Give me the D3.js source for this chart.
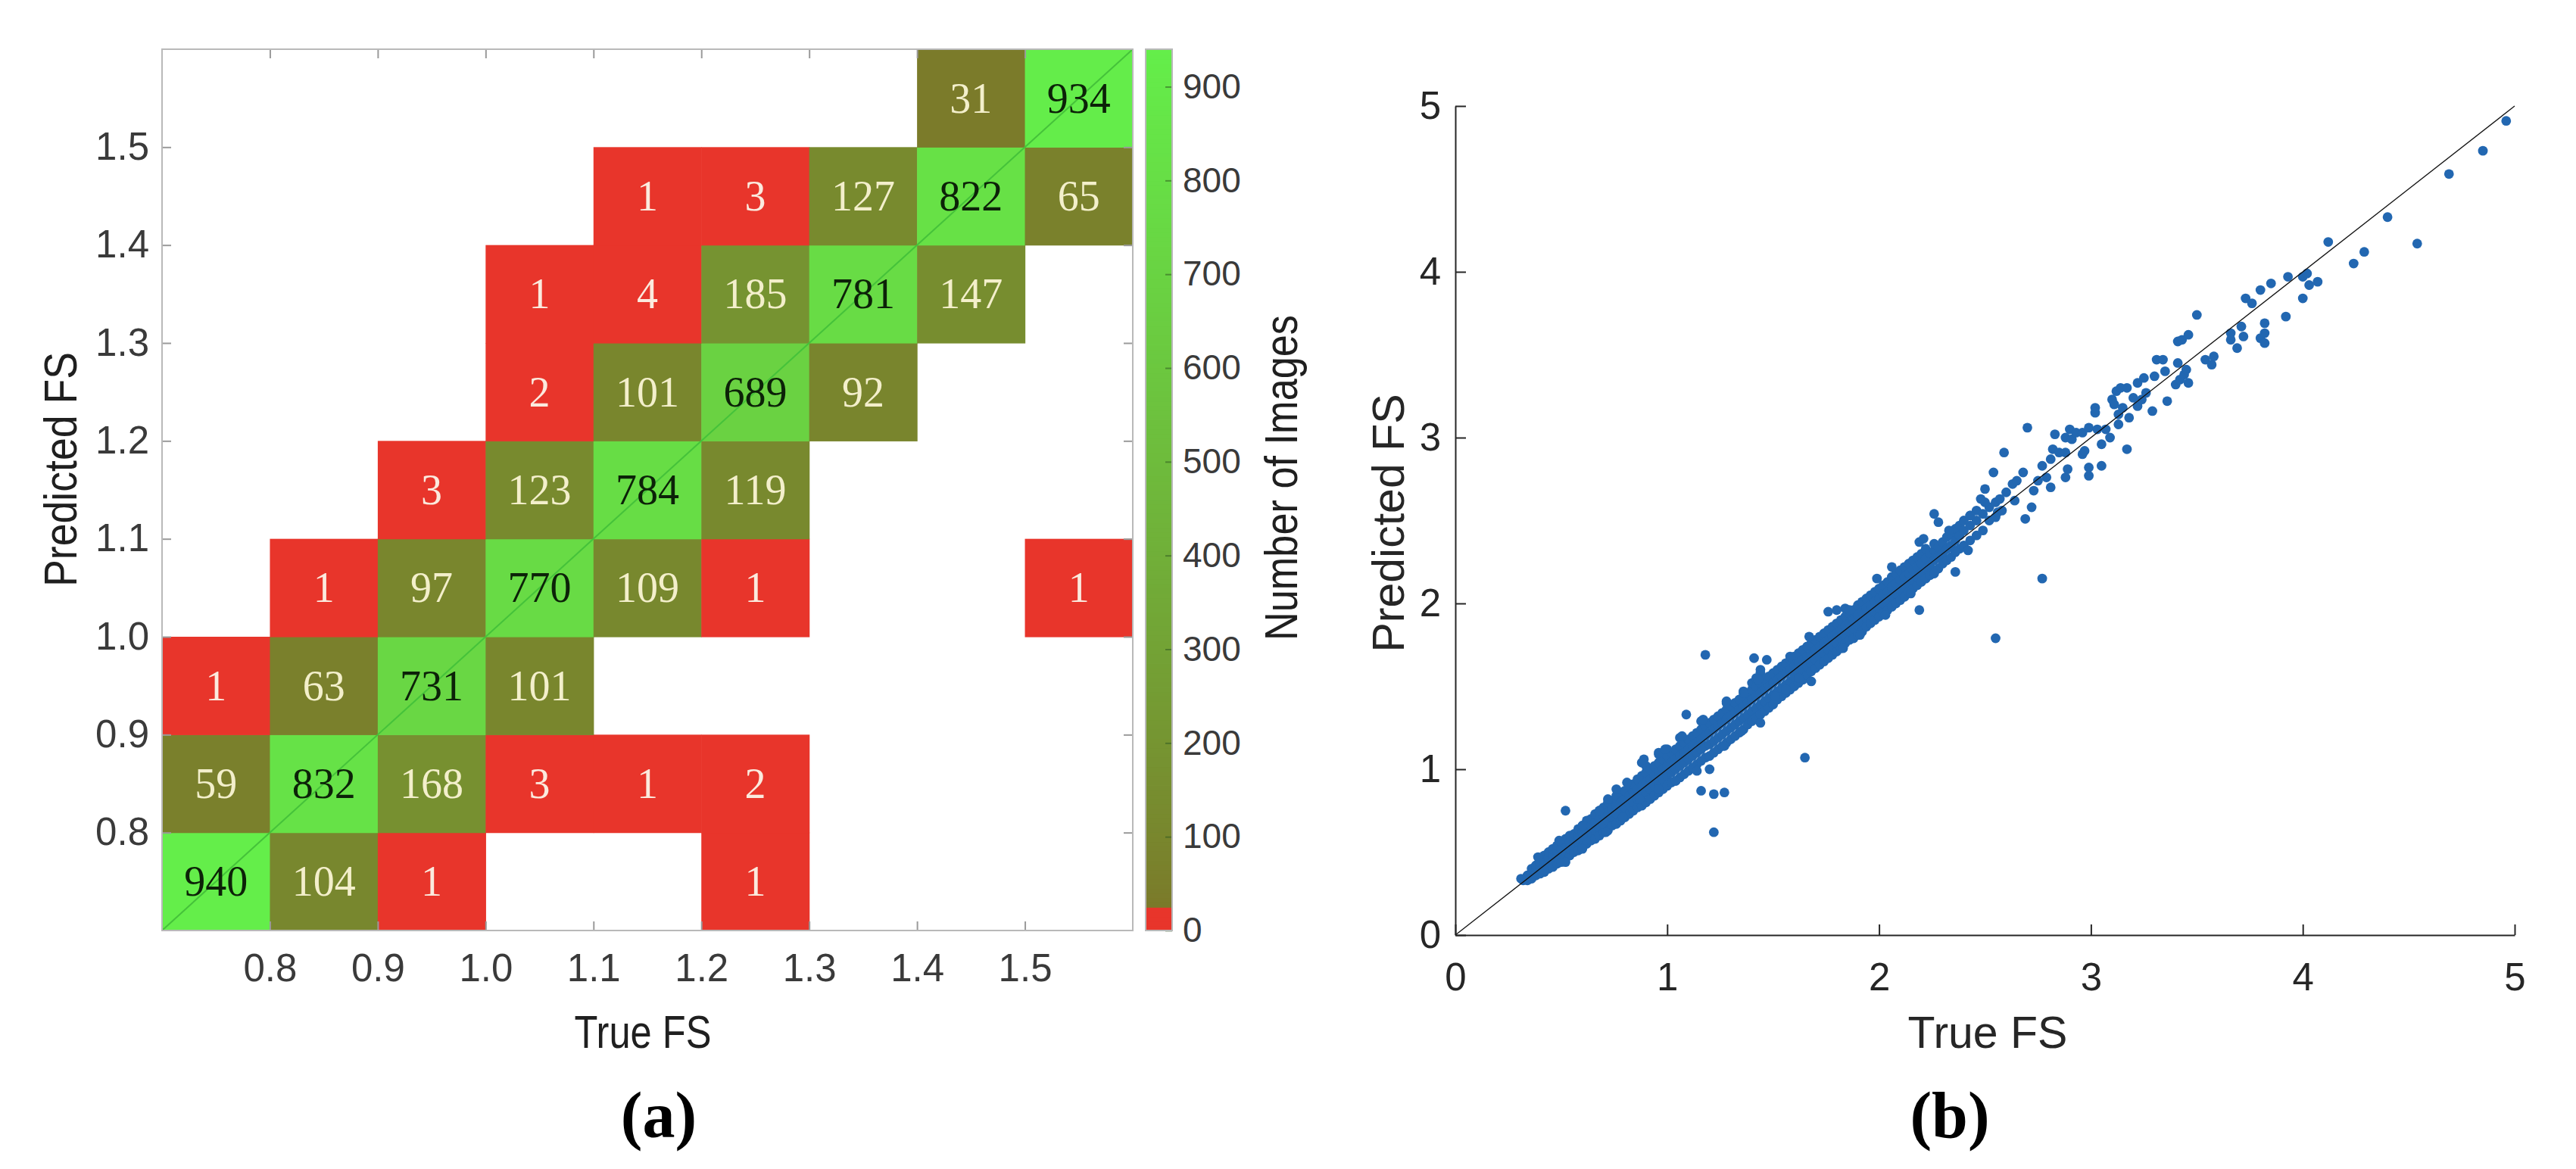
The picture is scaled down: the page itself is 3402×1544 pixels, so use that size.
<!DOCTYPE html>
<html>
<head>
<meta charset="utf-8">
<script src="https://cdn.jsdelivr.net/npm/d3@7"></script>
<style>
  html, body { margin: 0; padding: 0; background: #ffffff; }
  svg { display: block; }
</style>
</head>
<body>
<svg id="chart" width="3402" height="1544"></svg>
<script>
// ===================== DATA =====================
// (a) heat map: bins of True FS (columns) and Predicted FS (rows)
const binEdges = [0.7, 0.8, 0.9, 1.0, 1.1, 1.2, 1.3, 1.4, 1.5, 1.6];
const heatTickValues = [0.8, 0.9, 1.0, 1.1, 1.2, 1.3, 1.4, 1.5];
const heatTickLabels = ["0.8", "0.9", "1.0", "1.1", "1.2", "1.3", "1.4", "1.5"];
// counts[row][col]; row = predicted bin (0.7-0.8 first), col = true bin
const counts = [
  [940, 104, 1, null, null, 1, null, null, null],
  [59, 832, 168, 3, 1, 2, null, null, null],
  [1, 63, 731, 101, null, null, null, null, null],
  [null, 1, 97, 770, 109, 1, null, null, 1],
  [null, null, 3, 123, 784, 119, null, null, null],
  [null, null, null, 2, 101, 689, 92, null, null],
  [null, null, null, 1, 4, 185, 781, 147, null],
  [null, null, null, null, 1, 3, 127, 822, 65],
  [null, null, null, null, null, null, null, 31, 934]
];
const colorbarTicks = [0, 100, 200, 300, 400, 500, 600, 700, 800, 900];
const colorbarMax = 940;
const redLimit = 27;

// (b) scatter: dense band columns [x, y1, y2, ...]
const denseColumns = [
  [0.32, 0.33], [0.34, 0.33, 0.36], [0.36, 0.34, 0.37, 0.40],
  [0.38, 0.36, 0.39, 0.42], [0.40, 0.37, 0.41, 0.44], [0.42, 0.38, 0.42, 0.45, 0.48],
  [0.44, 0.40, 0.43, 0.47, 0.50], [0.46, 0.41, 0.45, 0.49, 0.52], [0.48, 0.43, 0.47, 0.51, 0.54],
  [0.50, 0.44, 0.49, 0.52, 0.56], [0.52, 0.46, 0.50, 0.55, 0.58], [0.54, 0.48, 0.52, 0.56, 0.60],
  [0.56, 0.50, 0.54, 0.58, 0.61], [0.58, 0.51, 0.56, 0.60, 0.64], [0.60, 0.53, 0.58, 0.62, 0.66],
  [0.62, 0.55, 0.60, 0.64, 0.69], [0.64, 0.57, 0.62, 0.66, 0.70], [0.66, 0.58, 0.63, 0.68, 0.73],
  [0.68, 0.60, 0.65, 0.70, 0.75], [0.70, 0.62, 0.67, 0.72, 0.77], [0.72, 0.63, 0.69, 0.74, 0.80],
  [0.74, 0.66, 0.71, 0.76, 0.81], [0.76, 0.67, 0.73, 0.78, 0.84], [0.78, 0.69, 0.75, 0.80, 0.86],
  [0.80, 0.71, 0.77, 0.82, 0.87], [0.82, 0.73, 0.79, 0.84, 0.90], [0.84, 0.75, 0.80, 0.86, 0.91],
  [0.86, 0.77, 0.82, 0.88, 0.94], [0.88, 0.78, 0.84, 0.90, 0.96, 1.04], [0.90, 0.80, 0.86, 0.92, 0.98, 1.02],
  [0.92, 0.82, 0.88, 0.94, 1.00], [0.94, 0.84, 0.90, 0.96, 1.02], [0.96, 0.86, 0.92, 0.98, 1.04, 1.09],
  [0.98, 0.88, 0.94, 1.00, 1.06], [1.00, 0.90, 0.96, 1.02, 1.08, 1.12], [1.02, 0.92, 0.98, 1.04, 1.10],
  [1.04, 0.93, 1.00, 1.06, 1.12], [1.06, 0.95, 1.02, 1.08, 1.14, 1.19], [1.08, 0.97, 1.04, 1.10, 1.16],
  [1.10, 0.99, 1.06, 1.12, 1.18], [1.12, 1.01, 1.08, 1.14, 1.20], [1.14, 1.03, 1.10, 1.16, 1.22],
  [1.16, 1.05, 1.12, 1.18, 1.24, 1.29], [1.18, 1.07, 1.14, 1.20, 1.26], [1.20, 1.08, 1.15, 1.22, 1.28],
  [1.22, 1.10, 1.17, 1.24, 1.30], [1.24, 1.12, 1.19, 1.26, 1.32], [1.26, 1.14, 1.21, 1.28, 1.34],
  [1.28, 1.16, 1.23, 1.30, 1.36, 1.40], [1.30, 1.18, 1.25, 1.32, 1.38], [1.32, 1.20, 1.27, 1.34, 1.40],
  [1.34, 1.22, 1.29, 1.36, 1.42], [1.36, 1.24, 1.31, 1.38, 1.44, 1.47], [1.38, 1.27, 1.33, 1.40, 1.46],
  [1.40, 1.29, 1.35, 1.42, 1.48, 1.52], [1.42, 1.31, 1.37, 1.44, 1.50, 1.55], [1.44, 1.33, 1.39, 1.46, 1.52, 1.58],
  [1.46, 1.35, 1.41, 1.48, 1.54], [1.48, 1.37, 1.43, 1.50, 1.56], [1.50, 1.39, 1.45, 1.52, 1.58],
  [1.52, 1.42, 1.47, 1.54, 1.60], [1.54, 1.44, 1.49, 1.56, 1.62], [1.56, 1.46, 1.51, 1.58, 1.64],
  [1.58, 1.48, 1.53, 1.60, 1.66], [1.60, 1.50, 1.56, 1.62, 1.68], [1.62, 1.52, 1.58, 1.64, 1.70],
  [1.64, 1.54, 1.60, 1.66, 1.72], [1.66, 1.57, 1.62, 1.68, 1.74], [1.68, 1.59, 1.64, 1.70, 1.76],
  [1.70, 1.61, 1.66, 1.72, 1.78], [1.72, 1.63, 1.68, 1.74, 1.80], [1.74, 1.65, 1.70, 1.76, 1.82],
  [1.76, 1.67, 1.72, 1.78, 1.84], [1.78, 1.69, 1.74, 1.80, 1.86], [1.80, 1.71, 1.76, 1.82, 1.88],
  [1.82, 1.73, 1.79, 1.84, 1.90], [1.84, 1.76, 1.81, 1.86, 1.92, 1.97], [1.86, 1.78, 1.83, 1.88, 1.94],
  [1.88, 1.79, 1.85, 1.90, 1.96], [1.90, 1.81, 1.87, 1.93, 1.99], [1.92, 1.83, 1.89, 1.95, 2.01],
  [1.94, 1.86, 1.91, 1.97, 2.03], [1.96, 1.88, 1.93, 1.99, 2.05], [1.98, 1.90, 1.95, 2.01, 2.07],
  [2.00, 1.92, 1.97, 2.03, 2.09], [2.02, 1.94, 2.00, 2.05, 2.11], [2.04, 1.96, 2.02, 2.07, 2.13],
  [2.06, 1.98, 2.04, 2.10, 2.16], [2.08, 2.00, 2.06, 2.12, 2.18], [2.10, 2.02, 2.08, 2.14, 2.20],
  [2.12, 2.04, 2.10, 2.16, 2.22], [2.14, 2.07, 2.12, 2.18, 2.24], [2.16, 2.09, 2.14, 2.20, 2.26],
  [2.18, 2.11, 2.16, 2.22, 2.28], [2.20, 2.13, 2.18, 2.24, 2.30], [2.22, 2.15, 2.21, 2.27, 2.33],
  [2.24, 2.17, 2.23, 2.30], [2.26, 2.19, 2.26, 2.32, 2.36], [2.28, 2.21, 2.28, 2.34],
  [2.30, 2.24, 2.30, 2.37], [2.32, 2.26, 2.33, 2.40], [2.34, 2.28, 2.35, 2.42],
  [2.36, 2.31, 2.38, 2.45], [2.38, 2.33, 2.41, 2.47], [2.40, 2.35, 2.44, 2.50],
  [2.43, 2.38, 2.47, 2.53], [2.46, 2.41, 2.50, 2.56], [2.49, 2.44, 2.54],
  [2.52, 2.50, 2.58], [2.55, 2.52, 2.61]
];
// edge spikes of the band [x, y]
const edgePoints = [
  [0.31, 0.34], [0.39, 0.47], [0.49, 0.57], [0.60, 0.66], [0.68, 0.75], [0.72, 0.82],
  [0.76, 0.88], [0.81, 0.92], [0.89, 1.06], [0.96, 1.10], [0.99, 1.12], [1.07, 1.20],
  [1.17, 1.30], [1.28, 1.41], [1.36, 1.46], [1.43, 1.54], [1.44, 1.60], [1.47, 1.66],
  [1.58, 1.68], [1.67, 1.80], [1.86, 1.96], [1.99, 2.15], [2.06, 2.22], [2.19, 2.37],
  [0.37, 0.355], [0.42, 0.39], [0.52, 0.44], [0.60, 0.52], [0.71, 0.62], [0.79, 0.71],
  [0.87, 0.82], [0.96, 0.88], [1.04, 0.93], [1.12, 1.01], [1.14, 0.99], [1.20, 1.00],
  [1.27, 1.14], [1.35, 1.23], [1.44, 1.28], [1.51, 1.44], [1.56, 1.48], [1.62, 1.55],
  [1.68, 1.53], [1.83, 1.73], [1.91, 1.81], [2.03, 1.93], [2.15, 2.06], [2.26, 2.18]
];
// isolated outliers [x, y]
const outlierPoints = [
  [0.52, 0.75], [1.09, 1.33], [1.18, 1.69], [1.41, 1.67], [1.76, 1.95], [1.80, 1.96],
  [1.16, 0.87], [1.22, 0.85], [1.27, 0.86], [1.22, 0.62], [1.65, 1.07], [2.19, 1.96],
  [2.36, 2.19], [2.55, 1.79], [2.77, 2.15]
];
// sparse upper range [x, y]
const sparsePoints = [
  [2.21, 2.39], [2.26, 2.54], [2.28, 2.49], [2.33, 2.44], [2.36, 2.31], [2.42, 2.32], [2.43, 2.53],
  [2.48, 2.63], [2.50, 2.61], [2.50, 2.69], [2.54, 2.79], [2.56, 2.55], [2.57, 2.63], [2.58, 2.56],
  [2.59, 2.91], [2.60, 2.67], [2.63, 2.72], [2.64, 2.62], [2.65, 2.74], [2.68, 2.79], [2.69, 2.51],
  [2.70, 3.06], [2.72, 2.58], [2.73, 2.68], [2.75, 2.74], [2.77, 2.83], [2.79, 2.76], [2.81, 2.70],
  [2.81, 2.87], [2.82, 2.93], [2.83, 3.02], [2.85, 2.91], [2.88, 2.91], [2.88, 2.76], [2.88, 3.00],
  [2.89, 2.81], [2.90, 3.05], [2.91, 2.99], [2.93, 3.03], [2.96, 3.03], [2.96, 2.90], [2.97, 2.92],
  [2.99, 3.06], [2.99, 2.77], [2.99, 2.82], [3.02, 3.18], [3.02, 3.15], [3.03, 3.05], [3.05, 2.96],
  [3.05, 2.83], [3.07, 3.05], [3.09, 3.00], [3.10, 3.23], [3.11, 3.20], [3.12, 3.28], [3.13, 3.08],
  [3.13, 3.14], [3.14, 3.30], [3.15, 3.18], [3.17, 3.30], [3.17, 2.93], [3.18, 3.12], [3.20, 3.24],
  [3.22, 3.33], [3.22, 3.19], [3.24, 3.23], [3.25, 3.36], [3.26, 3.27], [3.29, 3.16], [3.30, 3.37],
  [3.31, 3.47], [3.34, 3.47], [3.35, 3.40], [3.36, 3.22], [3.40, 3.32], [3.41, 3.45], [3.41, 3.58],
  [3.42, 3.35], [3.43, 3.59], [3.44, 3.38], [3.45, 3.41], [3.46, 3.33], [3.46, 3.62], [3.50, 3.74],
  [3.54, 3.47], [3.57, 3.44], [3.58, 3.49], [3.66, 3.63], [3.66, 3.59], [3.69, 3.54], [3.71, 3.67],
  [3.72, 3.61], [3.73, 3.84], [3.76, 3.81], [3.80, 3.89], [3.80, 3.60], [3.82, 3.69], [3.82, 3.63],
  [3.82, 3.57], [3.85, 3.93], [3.92, 3.73], [3.93, 3.97], [4.00, 3.97], [4.00, 3.84], [4.02, 3.99],
  [4.03, 3.92], [4.07, 3.94], [4.12, 4.18], [4.24, 4.05], [4.29, 4.12], [4.40, 4.33], [4.54, 4.17],
  [4.69, 4.59], [4.85, 4.73], [4.96, 4.91]
];
const scatterTicks = [0, 1, 2, 3, 4, 5];

// ===================== DRAWING =====================
const svg = d3.select("#chart");
svg.append("rect").attr("width", 3402).attr("height", 1544).attr("fill", "#ffffff");

const SANS = "'Liberation Sans', Arial, Helvetica, sans-serif";
const SERIF = "'Liberation Serif', 'Times New Roman', serif";

// ---------- (a) heat map ----------
const hm = { left: 214, right: 1496, top: 65, bottom: 1229 };
const hx = d3.scaleLinear().domain([0.7, 1.6]).range([hm.left, hm.right]);
const hy = d3.scaleLinear().domain([0.7, 1.6]).range([hm.bottom, hm.top]);
const greenRamp = d3.scalePow().exponent(0.85).domain([redLimit, colorbarMax])
  .range(["#7b7a2a", "#64ee4a"]).clamp(true);
const cellColor = v => (v < redLimit ? "#e8352b" : greenRamp(v));
const textColor = v => (v < redLimit ? "#fbeade" : (v >= 500 ? "#0c2208" : "#f3efcb"));

const cells = [];
counts.forEach((row, r) => row.forEach((v, c) => {
  if (v !== null) cells.push({ r, c, v });
}));

const gH = svg.append("g");
gH.selectAll("rect.cell").data(cells).join("rect")
  .attr("class", "cell")
  .attr("x", d => hx(binEdges[d.c]))
  .attr("y", d => hy(binEdges[d.r + 1]))
  .attr("width", d => hx(binEdges[d.c + 1]) - hx(binEdges[d.c]) + 0.6)
  .attr("height", d => hy(binEdges[d.r]) - hy(binEdges[d.r + 1]) + 0.6)
  .attr("fill", d => cellColor(d.v));

// diagonal
gH.append("line")
  .attr("x1", hx(0.7)).attr("y1", hy(0.7))
  .attr("x2", hx(1.6)).attr("y2", hy(1.6))
  .attr("stroke", "#45c23a").attr("stroke-width", 2);

gH.selectAll("text.val").data(cells).join("text")
  .attr("class", "val")
  .attr("x", d => (hx(binEdges[d.c]) + hx(binEdges[d.c + 1])) / 2)
  .attr("y", d => (hy(binEdges[d.r]) + hy(binEdges[d.r + 1])) / 2)
  .attr("dy", "0.34em")
  .attr("text-anchor", "middle")
  .attr("font-family", SERIF).attr("font-size", 56)
  .attr("fill", d => textColor(d.v))
  .text(d => d.v);

// axes (ticks inward on all sides)
const fmtHeat = (d, i) => heatTickLabels[i];
const axB = gH.append("g").attr("transform", `translate(0,${hm.bottom})`)
  .call(d3.axisBottom(hx).tickValues(heatTickValues).tickFormat(fmtHeat)
    .tickSizeInner(-12).tickSizeOuter(0).tickPadding(31));
const axL = gH.append("g").attr("transform", `translate(${hm.left},0)`)
  .call(d3.axisLeft(hy).tickValues(heatTickValues).tickFormat(fmtHeat)
    .tickSizeInner(-12).tickSizeOuter(0).tickPadding(17));
const axT = gH.append("g").attr("transform", `translate(0,${hm.top})`)
  .call(d3.axisTop(hx).tickValues(heatTickValues).tickFormat("")
    .tickSizeInner(-12).tickSizeOuter(0));
const axR = gH.append("g").attr("transform", `translate(${hm.right},0)`)
  .call(d3.axisRight(hy).tickValues(heatTickValues).tickFormat("")
    .tickSizeInner(-12).tickSizeOuter(0));
[axB, axL, axT, axR].forEach(a => {
  a.select(".domain").remove();
  a.selectAll(".tick line").attr("stroke", "#9a9a9a").attr("stroke-width", 2);
  a.selectAll(".tick text").attr("font-family", SANS).attr("font-size", 51).attr("fill", "#3a3a3a");
});
gH.append("rect")
  .attr("x", hm.left).attr("y", hm.top)
  .attr("width", hm.right - hm.left).attr("height", hm.bottom - hm.top)
  .attr("fill", "none").attr("stroke", "#b9b9b9").attr("stroke-width", 2);

// axis titles
gH.append("text").attr("x", 849).attr("y", 1384).attr("text-anchor", "middle")
  .attr("font-family", SANS).attr("font-size", 62).attr("fill", "#1f1f1f")
  .attr("textLength", 181).attr("lengthAdjust", "spacingAndGlyphs")
  .text("True FS");
gH.append("text").attr("transform", "translate(101,620) rotate(-90)").attr("text-anchor", "middle")
  .attr("font-family", SANS).attr("font-size", 62).attr("fill", "#1f1f1f")
  .attr("textLength", 310).attr("lengthAdjust", "spacingAndGlyphs")
  .text("Predicted FS");

// colorbar
const cb = { left: 1513, right: 1548, top: 65, bottom: 1229 };
const cy = d3.scaleLinear().domain([0, colorbarMax]).range([cb.bottom, cb.top]);
const cbSteps = d3.range(0, colorbarMax, 5);
gH.append("g").selectAll("rect").data(cbSteps).join("rect")
  .attr("x", cb.left).attr("width", cb.right - cb.left)
  .attr("y", d => cy(Math.min(d + 5, colorbarMax)))
  .attr("height", d => cy(d) - cy(Math.min(d + 5, colorbarMax)) + 0.8)
  .attr("fill", d => cellColor(d + 2.5));
const axC = gH.append("g").attr("transform", `translate(${cb.right},0)`)
  .call(d3.axisRight(cy).tickValues(colorbarTicks)
    .tickSizeInner(-9).tickSizeOuter(0).tickPadding(14));
axC.select(".domain").remove();
axC.selectAll(".tick line").attr("stroke", "#2f5a20").attr("stroke-opacity", 0.55).attr("stroke-width", 2);
axC.selectAll(".tick text").attr("font-family", SANS).attr("font-size", 46).attr("fill", "#3a3a3a");
gH.append("rect")
  .attr("x", cb.left).attr("y", cb.top)
  .attr("width", cb.right - cb.left).attr("height", cb.bottom - cb.top)
  .attr("fill", "none").attr("stroke", "#b9b9b9").attr("stroke-width", 2);
gH.append("text").attr("transform", "translate(1713,631) rotate(-90)").attr("text-anchor", "middle")
  .attr("font-family", SANS).attr("font-size", 62).attr("fill", "#1f1f1f")
  .attr("textLength", 430).attr("lengthAdjust", "spacingAndGlyphs")
  .text("Number of Images");

// panel label
svg.append("text").attr("x", 870).attr("y", 1502).attr("text-anchor", "middle")
  .attr("font-family", SERIF).attr("font-weight", "bold").attr("font-size", 86).attr("fill", "#000")
  .text("(a)");

// ---------- (b) scatter ----------
const sc = { left: 1922, right: 3321, top: 140, bottom: 1235 };
const sx = d3.scaleLinear().domain([0, 5]).range([sc.left, sc.right]);
const sy = d3.scaleLinear().domain([0, 5]).range([sc.bottom, sc.top]);
const gS = svg.append("g");

const pts = [];
denseColumns.forEach(col => col.slice(1).forEach(v => pts.push([col[0], v])));
edgePoints.forEach(p => pts.push(p));
outlierPoints.forEach(p => pts.push(p));
sparsePoints.forEach(p => pts.push(p));

gS.append("g").selectAll("circle").data(pts).join("circle")
  .attr("cx", d => sx(d[0])).attr("cy", d => sy(d[1])).attr("r", 6.4)
  .attr("fill", "#2267b1");

gS.append("line")
  .attr("x1", sx(0)).attr("y1", sy(0)).attr("x2", sx(5)).attr("y2", sy(5))
  .attr("stroke", "#111").attr("stroke-width", 1.3);

const sAxB = gS.append("g").attr("transform", `translate(0,${sc.bottom})`)
  .call(d3.axisBottom(sx).tickValues(scatterTicks).tickFormat(d3.format("d"))
    .tickSizeInner(-14).tickSizeOuter(0).tickPadding(37));
const sAxL = gS.append("g").attr("transform", `translate(${sc.left},0)`)
  .call(d3.axisLeft(sy).tickValues(scatterTicks).tickFormat(d3.format("d"))
    .tickSizeInner(-14).tickSizeOuter(0).tickPadding(19));
[sAxB, sAxL].forEach(a => {
  a.select(".domain").attr("stroke", "#262626").attr("stroke-width", 2);
  a.selectAll(".tick line").attr("stroke", "#262626").attr("stroke-width", 2);
  a.selectAll(".tick text").attr("font-family", SANS).attr("font-size", 51).attr("fill", "#262626");
});

gS.append("text").attr("x", 2625).attr("y", 1384).attr("text-anchor", "middle")
  .attr("font-family", SANS).attr("font-size", 59).attr("fill", "#262626")
  .text("True FS");
gS.append("text").attr("transform", "translate(1854,691) rotate(-90)").attr("text-anchor", "middle")
  .attr("font-family", SANS).attr("font-size", 59).attr("fill", "#262626")
  .text("Predicted FS");

svg.append("text").attr("x", 2575).attr("y", 1502).attr("text-anchor", "middle")
  .attr("font-family", SERIF).attr("font-weight", "bold").attr("font-size", 86).attr("fill", "#000")
  .text("(b)");
</script>
</body>
</html>
